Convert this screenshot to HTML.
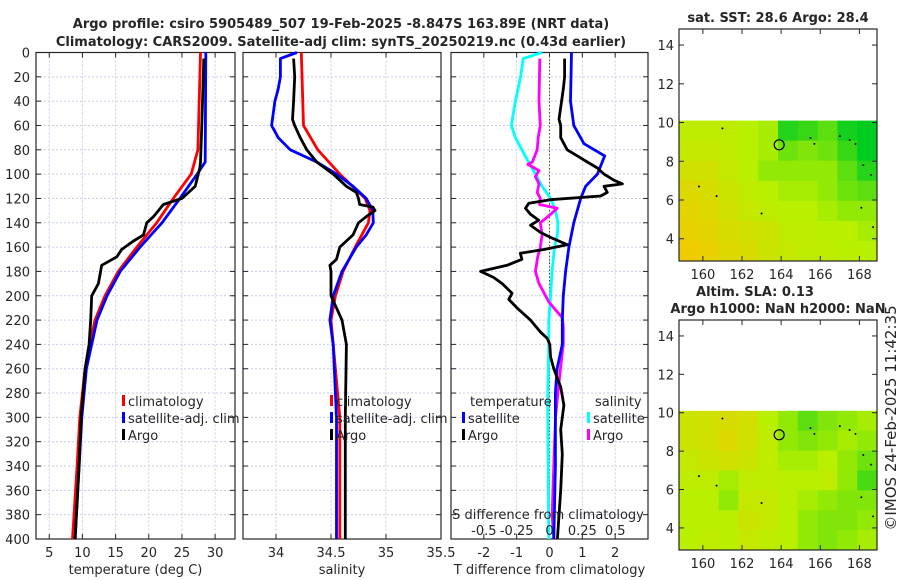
<!DOCTYPE html>
<html><head><meta charset="utf-8"><style>
html,body{margin:0;padding:0;background:#fff;}
svg{display:block;font-family:"DejaVu Sans","Liberation Sans",sans-serif;}
</style></head><body>
<svg id="c" width="900" height="580" viewBox="0 0 900 580" xmlns="http://www.w3.org/2000/svg"></svg>
<script>
// ---------- data ----------
const depthTicks=[0,20,40,60,80,100,120,140,160,180,200,220,240,260,280,300,320,340,360,380,400];
const tTicks=[5,10,15,20,25,30];
const sTicks=[34,34.5,35,35.5];
const dTTicks=[-2,-1,0,1,2];
const dSTicks=[-0.5,-0.25,0,0.25,0.5];
const dSTickLabels=["-0.5","-0.25","0","0.25","0.5"];
const tempClimDepth=[0,80,100,120,140,160,180,200,220,240,260,300,340,400];
const tempClimVal=[27.8,27.4,26.4,23.7,21.2,18.2,15.4,13.4,11.9,11.1,10.4,9.6,9.2,8.5];
const tempSatDepth=[0,90,100,120,140,160,180,200,220,240,260,300,340,400];
const tempSatVal=[28.6,28.5,27.3,24.7,22,18.7,15.7,13.7,12.2,11.4,10.6,9.9,9.5,8.9];
const tempArgoDepth=[5,60,90,95,110,115,120,125,135,140,150,155,162,168,175,190,200,220,240,260,300,340,400];
const tempArgoVal=[28.3,28,27.8,27.7,27,26,25,22.2,20.7,19.7,19.2,17.7,15.9,15.2,12.9,12.4,11.4,11.25,11,10.4,9.8,9.5,8.9];
const salClimDepth=[0,60,80,100,120,130,140,160,180,200,220,240,300,400];
const salClimVal=[34.23,34.25,34.38,34.58,34.81,34.855,34.84,34.72,34.61,34.54,34.5,34.52,34.58,34.58];
const salSatDepth=[0,5,20,30,40,60,70,80,90,100,110,120,130,140,150,160,180,200,220,240,300,400];
const salSatVal=[34.19,34.04,34.04,34.02,33.99,33.96,34.02,34.13,34.37,34.55,34.7,34.82,34.88,34.885,34.82,34.73,34.6,34.52,34.49,34.52,34.55,34.55];
const salArgoDepth=[5,20,40,55,60,70,80,90,100,105,110,115,120,125,127,130,135,140,150,160,170,175,180,200,210,220,240,300,340,400];
const salArgoVal=[34.16,34.17,34.16,34.15,34.17,34.22,34.28,34.37,34.52,34.58,34.64,34.73,34.75,34.76,34.88,34.9,34.82,34.75,34.7,34.58,34.55,34.49,34.5,34.5,34.55,34.6,34.64,34.63,34.63,34.63];
const dSSatDepth=[0,5,20,40,60,70,80,90,100,110,120,130,140,150,160,180,200,220,240,280,300,400];
const dSSatVal=[-0.056,-0.2,-0.22,-0.26,-0.29,-0.26,-0.21,-0.16,-0.107,-0.056,0.008,0.046,0.064,0.06,0.038,0.02,0.008,-0.005,-0.005,-0.013,-0.013,-0.005];
const dSArgoDepth=[5,40,60,70,80,90,92,97,102,108,115,120,125,128,133,140,150,160,168,180,190,205,210,218,225,240,260,280,300,340,380,400];
const dSArgoVal=[-0.074,-0.08,-0.07,-0.086,-0.094,-0.13,-0.165,-0.08,-0.107,-0.08,-0.094,-0.07,-0.076,0.059,0.008,-0.07,-0.056,-0.07,-0.09,-0.107,-0.08,-0.005,0.033,0.097,0.105,0.105,0.084,0.064,0.046,0.033,0.02,0.033];
const dTSatDepth=[0,40,60,75,85,100,110,120,140,160,180,200,220,240,260,280,340,400];
const dTSatVal=[0.67,0.64,0.74,1.05,1.68,1.46,1.1,0.95,0.74,0.59,0.49,0.42,0.39,0.39,0.23,0.18,0.18,0.13];
const dTArgoDepth=[5,20,30,55,60,70,80,85,90,95,100,105,108,110,115,118,121,124,128,133,138,142,148,152,158,162,165,170,175,180,185,190,198,203,210,220,230,235,240,250,260,275,290,310,330,360,400];
const dTArgoVal=[0.46,0.46,0.42,0.29,0.34,0.34,0.54,0.85,1.15,1.46,1.66,1.96,2.22,1.66,1.76,1.56,0.03,-0.63,-0.73,-0.58,-0.33,-0.58,-0.27,0.03,0.54,-0.17,-0.89,-0.84,-1.29,-2.1,-1.7,-1.44,-1.14,-1.24,-0.99,-0.58,-0.27,-0.07,0.01,0.03,0.13,0.34,0.44,0.34,0.39,0.34,0.24];
const lonTicks=[160,162,164,166,168];
const latTicks=[4,6,8,10,12,14];
const sstGrid=[
[.45,.45,.45,.5,.55,.9,.85,.75,.95,1],
[.4,.4,.45,.5,.55,.7,.65,.7,.85,1],
[.3,.3,.4,.5,.6,.6,.6,.6,.75,.9],
[.2,.25,.35,.45,.5,.55,.55,.6,.7,.75],
[.15,.2,.3,.4,.45,.5,.5,.55,.6,.6],
[.1,.15,.25,.3,.35,.45,.45,.5,.5,.55],
[.05,.1,.2,.25,.35,.4,.45,.45,.5,.5]];
const slaGrid=[
[.35,.3,.25,.3,.5,.6,.75,.65,.6,.55],
[.35,.3,.2,.3,.45,.6,.65,.6,.55,.6],
[.4,.35,.3,.35,.45,.55,.55,.5,.6,.7],
[.45,.45,.55,.45,.45,.5,.5,.45,.6,.8],
[.5,.5,.6,.4,.4,.5,.55,.6,.65,.65],
[.5,.5,.5,.35,.4,.5,.6,.65,.65,.6],
[.5,.45,.5,.4,.45,.5,.6,.65,.6,.55]];
const argoLon=163.9, argoLat=8.85;
const islandLon=[161,159.8,160.7,163,165.5,165.7,167,167.5,167.8,168.2,168.6,168.1,168.7];
const islandLat=[9.7,6.7,6.2,5.3,9.2,8.9,9.3,9.1,8.9,7.8,7.3,5.6,4.6];

// ---------- drawing ----------
const NS="http://www.w3.org/2000/svg";
const svg=document.getElementById('c');
function mk(tag,attrs,parent){const e=document.createElementNS(NS,tag);for(const k in attrs)e.setAttribute(k,attrs[k]);(parent||svg).appendChild(e);return e;}
function txt(s,x,y,attrs){const e=mk('text',Object.assign({x:x,y:y,'font-size':13,fill:'#262626'},attrs||{}));e.textContent=s;return e;}
const Y0=52.5,Y1=539;
function yD(d){return Y0+d*(Y1-Y0)/400;}
function xScale(lo,hi,px0,px1){return v=>px0+(v-lo)*(px1-px0)/(hi-lo);}

function panel(name,px0,px1,xs,xt,xlabels,xtitle,showY){
  const g=mk('g',{});
  
  
  xt.forEach(v=>{mk('line',{x1:xs(v),x2:xs(v),y1:Y0,y2:Y1,stroke:'#c6cde8','stroke-width':1,'stroke-dasharray':'2,2'},g);});
  depthTicks.forEach(d=>{mk('line',{x1:px0,x2:px1,y1:yD(d),y2:yD(d),stroke:'#c6cde8','stroke-width':1,'stroke-dasharray':'2,2'},g);});
  depthTicks.forEach(d=>{mk('line',{x1:px0,x2:px0+5,y1:yD(d),y2:yD(d),stroke:'#262626'},g);mk('line',{x1:px1,x2:px1-5,y1:yD(d),y2:yD(d),stroke:'#262626'},g);
    if(showY){const t=txt(String(d),30,yD(d)+5,{'text-anchor':'end'});}});
  xt.forEach((v,i)=>{mk('line',{x1:xs(v),x2:xs(v),y1:Y1,y2:Y1-5,stroke:'#262626'},g);mk('line',{x1:xs(v),x2:xs(v),y1:Y0,y2:Y0+5,stroke:'#262626'},g);
    const t=txt(xlabels[i],xs(v),557,{'text-anchor':'middle'});});
  mk('rect',{x:px0,y:Y0,width:px1-px0,height:Y1-Y0,fill:'none',stroke:'#262626','stroke-width':1.2},g);
  const tt=txt(xtitle,(px0+px1)/2,574,{'text-anchor':'middle'});
  
  return g;
}
function line(depths,vals,xs,color,name,w){
  const pts=depths.map((d,i)=>xs(vals[i]).toFixed(1)+','+yD(d).toFixed(1)).join(' ');
  const p=mk('polyline',{points:pts,fill:'none',stroke:color,'stroke-width':w||2.8,'stroke-linejoin':'round'});
  
  
}
function legendEntry(x,y,color,label){
  const g=mk('g',{});
  
  
  mk('rect',{x:x,y:y-11,width:3,height:11,fill:color},g);
  const t=txt(label,x+6,y,{});g.appendChild(t);
}

const xT=xScale(3,33,36,235);
panel('temperature-panel',36,235,xT,tTicks,tTicks.map(String),'temperature (deg C)',true);
line(tempClimDepth,tempClimVal,xT,'#ff0000','temp-climatology-line');
line(tempSatDepth,tempSatVal,xT,'#0000ff','temp-satellite-line');
line(tempArgoDepth,tempArgoVal,xT,'#000000','temp-argo-line');
legendEntry(122,406,'#ff0000','climatology');
legendEntry(122,423,'#0000ff','satellite-adj. clim');
legendEntry(122,440,'#000000','Argo');

const xS=xScale(33.7,35.5,243,441);
panel('salinity-panel',243,441,xS,sTicks,sTicks.map(String),'salinity',false);
line(salClimDepth,salClimVal,xS,'#ff0000','sal-climatology-line');
line(salSatDepth,salSatVal,xS,'#0000ff','sal-satellite-line');
line(salArgoDepth,salArgoVal,xS,'#000000','sal-argo-line');
legendEntry(330,406,'#ff0000','climatology');
legendEntry(330,423,'#0000ff','satellite-adj. clim');
legendEntry(330,440,'#000000','Argo');

const xDT=xScale(-3,3,451,648);
const xDS=xScale(-0.75,0.75,451,648);
panel('difference-panel',451,648,xDT,dTTicks,dTTicks.map(String),'T difference from climatology',false);
mk('line',{x1:xDT(0),x2:xDT(0),y1:Y0,y2:Y1,stroke:'#555500','stroke-width':1,'stroke-dasharray':'1.5,2'});
line(dSSatDepth,dSSatVal,xDS,'#00ffff','dS-satellite-line');
line(dSArgoDepth,dSArgoVal,xDS,'#ff00ff','dS-argo-line');
line(dTSatDepth,dTSatVal,xDT,'#0000ff','dT-satellite-line');
line(dTArgoDepth,dTArgoVal,xDT,'#000000','dT-argo-line');
{const t=txt('temperature',470,406,{});}
{const t=txt('salinity',595,406,{});}
legendEntry(462,423,'#0000ff','satellite');
legendEntry(462,440,'#000000','Argo');
legendEntry(587,423,'#00ffff','satellite');
legendEntry(587,440,'#ff00ff','Argo');
{const t=txt('S difference from climatology',548,519,{'text-anchor':'middle'});}
dSTicks.forEach((v,i)=>{const t=txt(dSTickLabels[i],xDS(v),535,{'text-anchor':'middle'});});

{const t=txt('Argo profile: csiro 5905489_507 19-Feb-2025 -8.847S 163.89E (NRT data)',341,28,{'text-anchor':'middle','font-weight':'bold'});}
{const t=txt('Climatology: CARS2009. Satellite-adj clim: synTS_20250219.nc (0.43d earlier)',341,46,{'text-anchor':'middle','font-weight':'bold'});}

function cmap(v){
  const stops=[[0,[245,200,0]],[0.5,[184,240,0]],[1,[0,204,32]]];
  let a=stops[0],b=stops[1];if(v>0.5){a=stops[1];b=stops[2];}
  const t=(v-a[0])/(b[0]-a[0]);
  const c=a[1].map((x,i)=>Math.round(x+(b[1][i]-x)*t));
  return 'rgb('+c.join(',')+')';
}
function map(name,top,bottom,grid){
  const L0=158.78,L1=168.9,la0=2.85,la1=14.83;
  const xs=xScale(L0,L1,679,877), ys=v=>bottom-(v-la0)*(bottom-top)/(la1-la0);
  const g=mk('g',{});
  
  
  const rows=grid.length, cols=grid[0].length;
  const latTop=10.1, dLat=(latTop-la0)/rows, dLon=(L1-L0)/cols;
  grid.forEach((row,r)=>row.forEach((v,c)=>{
    const x0=xs(L0+c*dLon), x1=xs(L0+(c+1)*dLon), y0=ys(latTop-r*dLat), y1=ys(latTop-(r+1)*dLat);
    const cell=mk('rect',{x:x0,y:y0,width:x1-x0+0.5,height:y1-y0+0.5,fill:cmap(v)},g);
    
    
  }));
  islandLon.forEach((lo,i)=>{mk('circle',{cx:xs(lo),cy:ys(islandLat[i]),r:1,fill:'#000'},g);});
  const m=mk('circle',{cx:xs(argoLon),cy:ys(argoLat),r:5,fill:'none',stroke:'#000','stroke-width':1.2},g);
  
  latTicks.forEach(v=>{mk('line',{x1:679,x2:684,y1:ys(v),y2:ys(v),stroke:'#262626'},g);mk('line',{x1:877,x2:872,y1:ys(v),y2:ys(v),stroke:'#262626'},g);
    const t=txt(String(v),674,ys(v)+5,{'text-anchor':'end'});});
  lonTicks.forEach(v=>{mk('line',{x1:xs(v),x2:xs(v),y1:bottom,y2:bottom-5,stroke:'#262626'},g);mk('line',{x1:xs(v),x2:xs(v),y1:top,y2:top+5,stroke:'#262626'},g);
    const t=txt(String(v),xs(v),bottom+18,{'text-anchor':'middle'});});
  mk('rect',{x:679,y:top,width:198,height:bottom-top,fill:'none',stroke:'#262626','stroke-width':1.2},g);
}
map('sst-map',29,261,sstGrid);
map('sla-map',320,550,slaGrid);
{const t=txt('sat. SST: 28.6  Argo: 28.4',778,22,{'text-anchor':'middle','font-weight':'bold'});}
{const t=txt('Altim. SLA: 0.13',755,296,{'text-anchor':'middle','font-weight':'bold'});}
{const t=txt('Argo h1000: NaN h2000: NaN',778,313,{'text-anchor':'middle','font-weight':'bold'});}
{const t=txt('©IMOS 24-Feb-2025 11:42:35',0,0,{'text-anchor':'middle','font-size':15,transform:'translate(896,418) rotate(-90)'});}
</script>
</body></html>
